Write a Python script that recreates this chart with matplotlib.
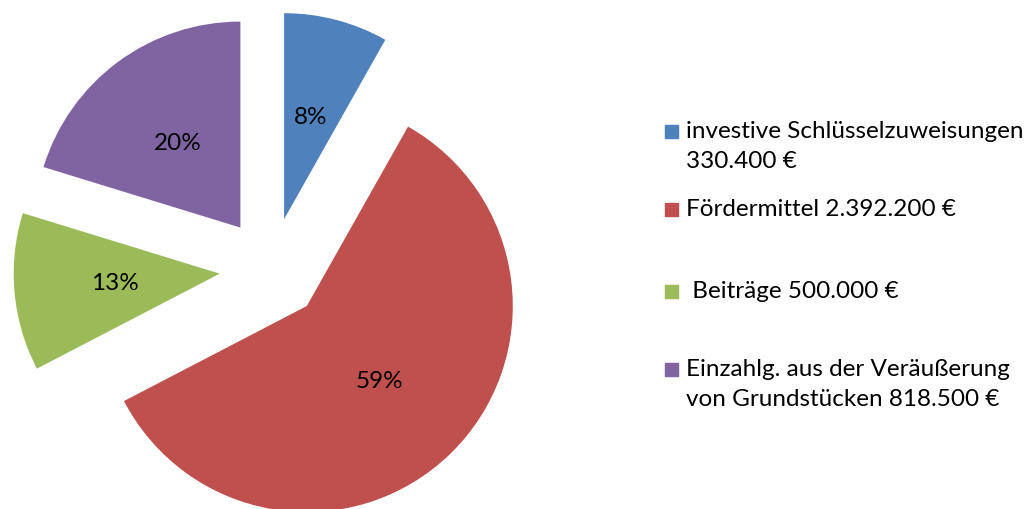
import matplotlib.pyplot as plt
from matplotlib.patches import Rectangle

# Werte aus dem Diagramm
labels = ["investive Schlüsselzuweisungen\n330.400 €",
          "Fördermittel 2.392.200 €",
          " Beiträge 500.000 €",
          "Einzahlg. aus der Veräußerung\nvon Grundstücken 818.500 €"]
values = [330400, 2392200, 500000, 818500]
pct_labels = ["8%", "59%", "13%", "20%"]
colors = ["#4F81BD", "#C0504D", "#9BBB59", "#8064A2"]

plt.rcParams['font.family'] = ['Lato', 'DejaVu Sans']

W, H = 1029, 509
R = 206.0          # Radius in Pixel
cx, cy = 271, 240  # Mittelpunkt (von unten gemessen)

fig = plt.figure(figsize=(W / 100, H / 100), dpi=100)
ax = fig.add_axes([0, 0, 1, 1])

wedges, texts, autotexts = ax.pie(values, colors=colors, startangle=90, counterclock=False,
                                  explode=[0.25] * len(values), radius=1.0,
                                  autopct='%1.0f%%', pctdistance=0.51,
                                  textprops={'fontsize': 17.5, 'color': 'black'})
# Prozentwerte wie im Original beschriften
for t, s in zip(autotexts, pct_labels):
    t.set_text(s)

ax.set_xlim(-cx / R, (W - cx) / R)
ax.set_ylim(-cy / R, (H - cy) / R)
ax.set_aspect('auto')
ax.axis('off')

# Legende von Hand (wie in Excel)
leg_y = [131, 209, 291, 369]   # Mitte der ersten Zeile, von oben
for lab, col, y in zip(labels, colors, leg_y):
    fig.add_artist(Rectangle((665 / W, 1 - (y + 7) / H), 13 / W, 13 / H,
                             transform=fig.transFigure, color=col))
    fig.text(686 / W, 1 - (y - 10) / H, lab, fontsize=17.5, va='top', ha='left',
             linespacing=1.5)

fig.savefig("out.png", dpi=100)
